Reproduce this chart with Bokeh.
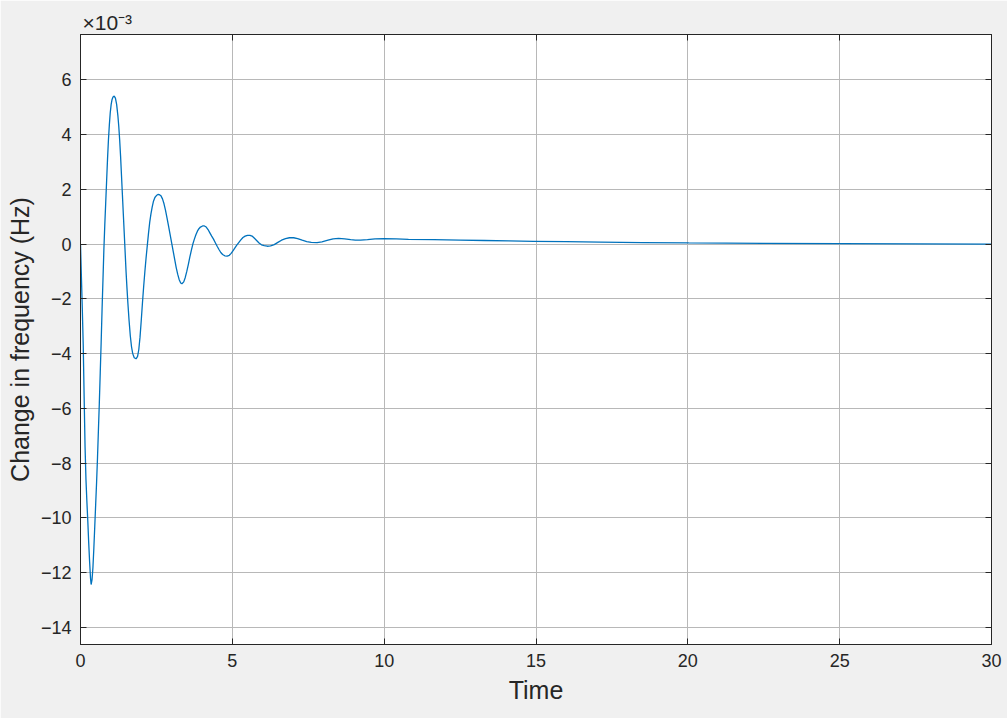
from bokeh.plotting import figure
from bokeh.models import FixedTicker, Range1d, LinearAxis
from bokeh.embed import file_html
from bokeh.resources import INLINE

# ---- data (values in units of 1e-3 Hz) ----
time = [0.00, 0.03, 0.06, 0.09, 0.12, 0.15, 0.18, 0.21, 0.24, 0.27, 0.30, 0.33, 0.35,
        0.38, 0.41, 0.44, 0.47, 0.50, 0.53, 0.56, 0.59, 0.62, 0.65, 0.68, 0.71, 0.74,
        0.77, 0.80, 0.83, 0.86, 0.89, 0.92, 0.95, 0.98, 1.01, 1.04, 1.07, 1.11,
        1.15, 1.19, 1.23, 1.26, 1.29, 1.32, 1.35, 1.38, 1.41, 1.44, 1.47, 1.50, 1.53,
        1.56, 1.60, 1.64, 1.68, 1.72, 1.77, 1.83,
        1.88, 1.92, 1.96, 2.00, 2.04, 2.08, 2.12, 2.16, 2.20, 2.24, 2.28, 2.32, 2.36,
        2.40, 2.45, 2.50, 2.55, 2.60,
        2.65, 2.70, 2.75, 2.80, 2.85, 2.90, 2.95, 3.00, 3.05, 3.10, 3.15, 3.20, 3.25,
        3.30, 3.34, 3.40, 3.45, 3.50, 3.55, 3.60, 3.65, 3.70, 3.75, 3.80, 3.85, 3.90,
        3.95, 4.02, 4.08, 4.14, 4.20, 4.26, 4.32, 4.38, 4.44, 4.50, 4.56, 4.62, 4.68,
        4.75, 4.83, 4.90, 4.96, 5.02, 5.08, 5.14, 5.21, 5.28, 5.35, 5.42, 5.50, 5.58,
        5.65, 5.72, 5.80, 5.88, 5.96, 6.05, 6.15, 6.26, 6.38, 6.50, 6.62, 6.75, 6.88,
        7.02, 7.15, 7.30, 7.45, 7.60, 7.79, 7.95, 8.15, 8.32, 8.50, 8.70, 8.90, 9.05,
        9.22, 9.45, 9.70, 9.99, 10.4, 10.8, 11.63, 12.5, 13.3, 14.1, 14.92, 16.0,
        17.12, 18.5, 20.03, 22.5, 25.02, 27.5, 30.0]
freq_change_milli = [0.0, -1.2, -2.4, -3.7, -5.6, -7.4, -8.6, -9.4, -10.1, -10.9, -11.6, -12.2, -12.43,
                     -12.25, -11.8, -11.1, -10.3, -9.5, -8.7, -7.8, -6.8, -5.8, -4.7, -3.6, -2.4, -1.3,
                     -0.2, 0.7, 1.5, 2.3, 3.1, 3.8, 4.35, 4.8, 5.1, 5.28, 5.37, 5.40,
                     5.33, 5.1, 4.7, 4.3, 3.8, 3.2, 2.5, 1.8, 1.1, 0.4, -0.3, -1.0, -1.6,
                     -2.15, -2.8, -3.35, -3.75, -4.0, -4.15, -4.19,
                     -4.1, -3.85, -3.4, -2.8, -2.15, -1.55, -1.0, -0.5, -0.05, 0.4, 0.8, 1.1, 1.35,
                     1.55, 1.7, 1.77, 1.81, 1.80,
                     1.76, 1.65, 1.47, 1.23, 0.95, 0.65, 0.35, 0.05, -0.25, -0.55, -0.85, -1.1, -1.3,
                     -1.42, -1.45, -1.38, -1.22, -1.0, -0.75, -0.48, -0.23, 0.0, 0.18, 0.34, 0.47, 0.56,
                     0.62, 0.66, 0.66, 0.62, 0.53, 0.41, 0.29, 0.18, 0.05, -0.08, -0.2, -0.31, -0.38,
                     -0.43, -0.44, -0.41, -0.34, -0.25, -0.15, -0.05, 0.05, 0.15, 0.24, 0.29, 0.32, 0.32,
                     0.29, 0.22, 0.13, 0.04, -0.03, -0.06, -0.08, -0.07, -0.02, 0.06, 0.14, 0.20, 0.23,
                     0.23, 0.20, 0.14, 0.09, 0.06, 0.05, 0.08, 0.14, 0.19, 0.21, 0.19, 0.16, 0.14,
                     0.14, 0.16, 0.19, 0.20, 0.19, 0.17, 0.16, 0.145, 0.13, 0.115, 0.10, 0.085,
                     0.07, 0.055, 0.04, 0.025, 0.012, 0.005, 0.0]
x_ticks = [0, 5, 10, 15, 20, 25, 30]
y_ticks = [-14, -12, -10, -8, -6, -4, -2, 0, 2, 4, 6]
x_label = "Time"
y_label = "Change in frequency (Hz)"
exponent_text = "\u00d710\u207b\u00b3"

FONT = "Liberation Sans"
DARK = "#262626"

p = figure(frame_width=911, frame_height=610,
           min_border_left=80, min_border_right=16, min_border_top=34, min_border_bottom=74,
           x_range=Range1d(0, 30), y_range=Range1d(-14.62, 7.65),
           output_backend="svg", toolbar_location=None,
           background_fill_color="white", border_fill_color="#f0f0f0",
           outline_line_color=DARK, outline_line_width=1)

p.line(time, freq_change_milli, line_color="#0072BD", line_width=1.3)

for g, t in ((p.xgrid, x_ticks), (p.ygrid, y_ticks)):
    g.ticker = FixedTicker(ticks=t)
    g.grid_line_color = "#b8b8b8"
    g.grid_line_width = 1

def style_axis(ax, ticks, labels=True):
    ax.ticker = FixedTicker(ticks=ticks)
    ax.axis_line_color = DARK
    ax.axis_line_width = 1
    ax.major_tick_line_color = DARK
    ax.major_tick_in = 6
    ax.major_tick_out = 0
    ax.minor_tick_line_color = None
    ax.major_label_text_font = FONT
    if labels:
        ax.major_label_text_color = DARK
        ax.major_label_text_font_size = "18px"
        ax.major_label_standoff = 9
    else:
        ax.major_label_text_color = None
        ax.major_label_text_font_size = "1px"
        ax.major_label_standoff = 0
    ax.axis_label_text_font = FONT
    ax.axis_label_text_font_size = "25px"
    ax.axis_label_text_font_style = "normal"
    ax.axis_label_text_color = DARK

style_axis(p.xaxis[0], x_ticks)
style_axis(p.yaxis[0], y_ticks)
p.xaxis[0].axis_label = x_label
p.xaxis[0].axis_label_standoff = 6
p.yaxis[0].axis_label = y_label
p.yaxis[0].axis_label_standoff = 4

top_axis = LinearAxis()
right_axis = LinearAxis()
style_axis(top_axis, x_ticks, labels=False)
style_axis(right_axis, y_ticks, labels=False)
p.add_layout(top_axis, "above")
p.add_layout(right_axis, "right")

p.title.text = exponent_text
p.title.align = "left"
p.title.offset = 2
p.title.standoff = 1
p.title.text_font = FONT
p.title.text_font_size = "21px"
p.title.text_font_style = "normal"
p.title.text_color = DARK

open("out.html", "w").write(file_html(p, INLINE))
